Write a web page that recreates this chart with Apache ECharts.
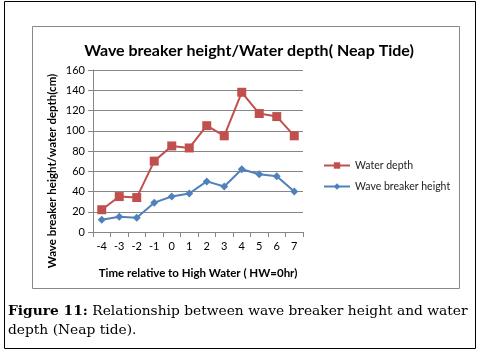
<!DOCTYPE html>
<html><head><meta charset="utf-8">
<script src="https://cdn.jsdelivr.net/npm/echarts@6/dist/echarts.min.js"></script>
<style>html,body{margin:0;padding:0;background:#fff;}#c{width:482px;height:356px;}</style>
</head><body><div id="c"></div>
<script>
const categories = ['-4','-3','-2','-1','0','1','2','3','4','5','6','7'];
const waterDepth = [22, 35, 34, 70, 85, 83, 105, 95, 138, 117, 114, 95];
const waveHeight = [12, 15, 14, 29, 35, 38, 50, 45, 62, 57, 55, 40];
const yTicks = [0, 20, 40, 60, 80, 100, 120, 140, 160];

const chart = echarts.init(document.getElementById('c'), null, {renderer:'canvas'});
const font = 'Lato, "Open Sans", sans-serif';
chart.setOption({
  animation: false,
  backgroundColor: '#fff',
  title: {
    text: 'Wave breaker height/Water depth( Neap Tide)',
    left: 244, top: 38, textAlign: 'center',
    textStyle: {fontFamily: font, fontSize: 16, fontWeight: 'bold', color: '#000'}
  },
  grid: {left: 93, right: 179, top: 70, bottom: 124, containLabel: false},
  legend: {
    orient: 'vertical', left: 318, top: 155, itemGap: 10,
    itemWidth: 26, itemHeight: 8,
    textStyle: {fontFamily: font, fontSize: 10.5, color: '#222'},
    data: ['Water depth', 'Wave breaker height']
  },
  xAxis: {
    type: 'category', data: categories, boundaryGap: true,
    name: 'Time relative to High Water ( HW=0hr)', nameLocation: 'middle', nameGap: 35,
    nameTextStyle: {fontFamily: font, fontSize: 11.5, fontWeight: 'bold', color: '#000'},
    axisLine: {lineStyle: {color: '#868686'}},
    axisTick: {show: true, length: 5, lineStyle: {color: '#868686'}},
    axisLabel: {fontFamily: font, fontSize: 11, color: '#000', margin: 9}
  },
  yAxis: {
    type: 'value', min: yTicks[0], max: yTicks[yTicks.length-1], interval: 20,
    axisLine: {show: true, lineStyle: {color: '#868686'}},
    axisTick: {show: true, length: 5, lineStyle: {color: '#868686'}},
    axisLabel: {fontFamily: font, fontSize: 11, color: '#000', margin: 8},
    splitLine: {lineStyle: {color: '#868686'}}
  },
  series: [
    {name: 'Water depth', type: 'line', data: waterDepth, symbol: 'rect', symbolSize: 9,
     itemStyle: {color: '#C0504D'}, lineStyle: {color: '#C0504D', width: 2}},
    {name: 'Wave breaker height', type: 'line', data: waveHeight, symbol: 'diamond', symbolSize: 8,
     itemStyle: {color: '#4F81BD'}, lineStyle: {color: '#4F81BD', width: 2}}
  ],
  graphic: [
    {type: 'rect', shape: {x: 4.5, y: 1.5, width: 471, height: 347}, style: {fill: null, stroke: '#000', lineWidth: 1}, z: -1},
    {type: 'rect', shape: {x: 32.5, y: 26.5, width: 427, height: 262}, style: {fill: null, stroke: '#888', lineWidth: 1}, z: -1},
    {type: 'text', x: 52, y: 171, rotation: Math.PI / 2, style: {
      text: 'Wave breaker height/water depth(cm)', align: 'center', verticalAlign: 'middle',
      font: 'bold 11.5px Lato, "Open Sans", sans-serif', fill: '#000'
    }},
    {type: 'text', left: 8, top: 302, style: {
      text: '{b|Figure 11:} Relationship between wave breaker height and water\ndepth (Neap tide).',
      font: '13.8px "DejaVu Serif", serif', fill: '#000', lineHeight: 19,
      rich: {b: {fontFamily: '"DejaVu Serif", serif', fontSize: 13.8, fontWeight: 'bold', fill: '#000'}}
    }}
  ]
});
</script></body></html>
